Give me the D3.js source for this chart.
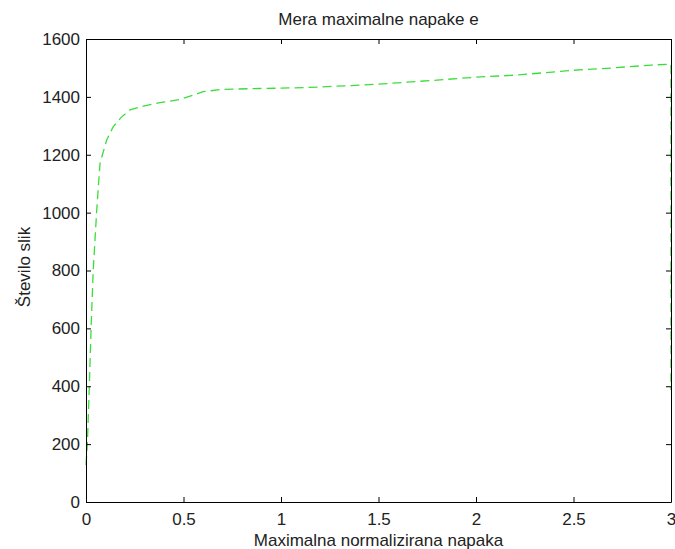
<!DOCTYPE html>
<html>
<head>
<meta charset="utf-8">
<script src="https://cdn.jsdelivr.net/npm/d3@7"></script>
<style>
  body { margin: 0; background: #fff; }
  text { font-family: "Liberation Sans", Arial, sans-serif; fill: #222; }
</style>
</head>
<body>
<svg id="chart" width="675" height="549"></svg>
<script>
// values
const napaka = [0.0, 0.003, 0.007, 0.017, 0.026, 0.037, 0.055, 0.072, 0.106, 0.14, 0.183, 0.226, 0.294, 0.379, 0.482, 0.55, 0.6, 0.7, 0.892, 1.0, 1.2, 1.5, 1.8, 2.0, 2.2, 2.5, 2.7, 2.9, 3.0, 3.0];
const slike = [128, 160, 200, 400, 600, 800, 1009, 1171, 1251, 1297, 1331, 1355, 1368, 1380, 1391, 1406, 1418, 1426, 1429, 1430, 1434, 1444, 1458, 1468, 1475, 1492, 1500, 1510, 1513, 387];
const xTicks = [0, 0.5, 1, 1.5, 2, 2.5, 3];
const yTicks = [0, 200, 400, 600, 800, 1000, 1200, 1400, 1600];

const margin = {top: 39, right: 4, bottom: 47, left: 86};
const W = 675, H = 549;
const width = W - margin.left - margin.right;
const height = H - margin.top - margin.bottom;
const fs = '17px';

const svg = d3.select('#chart');
const g = svg.append('g')
  .attr('transform', `translate(${margin.left},${margin.top})`);

const x = d3.scaleLinear().domain([0, 3]).range([0, width]);
const y = d3.scaleLinear().domain([0, 1600]).range([height, 0]);

const data = napaka.map((d, i) => ({x: d, y: slike[i]}));

// line
g.append('path')
  .datum(data)
  .attr('fill', 'none')
  .attr('stroke', '#3ade3a')
  .attr('stroke-width', 1.3)
  .attr('stroke-dasharray', '9,5')
  .attr('d', d3.line().x(d => x(d.x)).y(d => y(d.y)));

// box + inward ticks on all sides
const ax = (axis, tr) => {
  const a = g.append('g').attr('transform', tr).call(axis);
  a.select('.domain').attr('stroke', '#000');
  a.selectAll('.tick line').attr('stroke', '#000');
  a.selectAll('text').style('font-size', fs)
    .style('font-family', '"Liberation Sans", Arial, sans-serif').attr('fill', '#222');
  return a;
};

ax(d3.axisBottom(x).tickValues(xTicks).tickFormat(d3.format('')).tickSizeInner(-5).tickSizeOuter(0).tickPadding(11),
   `translate(0,${height})`);
ax(d3.axisTop(x).tickValues(xTicks).tickFormat('').tickSizeInner(-5).tickSizeOuter(0),
   'translate(0,0)');
ax(d3.axisLeft(y).tickValues(yTicks).tickFormat(d3.format('')).tickSizeInner(-5).tickSizeOuter(0).tickPadding(6),
   'translate(0,0)');
ax(d3.axisRight(y).tickValues(yTicks).tickFormat('').tickSizeInner(-5).tickSizeOuter(0),
   `translate(${width},0)`);

// titles
svg.append('text')
  .attr('x', margin.left + width / 2).attr('y', 25)
  .attr('text-anchor', 'middle').style('font-size', fs)
  .text('Mera maximalne napake e');

svg.append('text')
  .attr('x', margin.left + width / 2).attr('y', 546)
  .attr('text-anchor', 'middle').style('font-size', fs)
  .text('Maximalna normalizirana napaka');

svg.append('text')
  .attr('transform', `translate(30,${267}) rotate(-90)`)
  .attr('text-anchor', 'middle').style('font-size', fs)
  .text('Število slik');
</script>
</body>
</html>
